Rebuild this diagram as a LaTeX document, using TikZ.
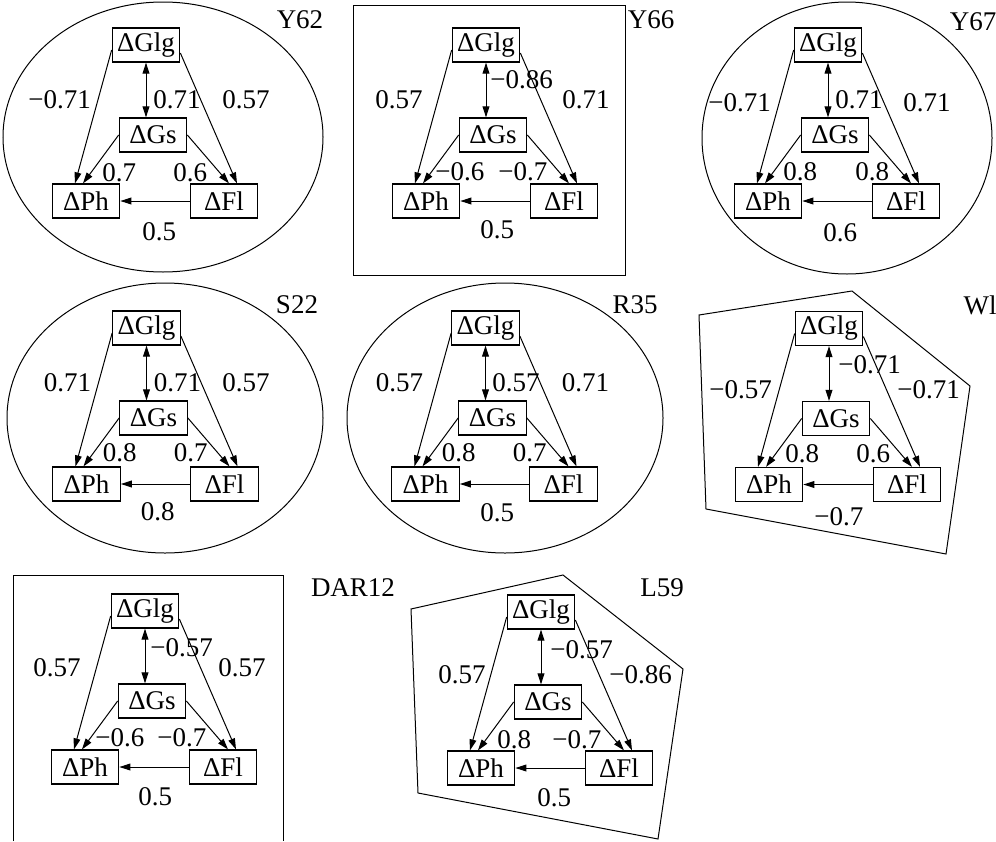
\documentclass[tikz,border=0pt]{standalone}
\usepackage{fontspec}
\setmainfont{Liberation Serif}
\usetikzlibrary{calc,arrows.meta}
\tikzset{
  bx/.style={draw,line width=0.6pt,inner sep=0pt,minimum width=33.75pt,minimum height=17pt,font=\fontsize{13.5}{16}\selectfont},
  lb/.style={inner sep=0pt,anchor=west,font=\fontsize{13.5}{16}\selectfont},
  ttl/.style={inner sep=0pt,font=\fontsize{13.5}{16}\selectfont},
  ar/.style={line width=0.5pt,-{Triangle[length=5.5pt,width=3.4pt]}},
  dar/.style={line width=0.5pt,{Triangle[length=5.5pt,width=3.4pt]}-{Triangle[length=5.5pt,width=3.4pt]}},
  frame/.style={line width=0.5pt}
}
\newcommand\panelcore[3]{%
  \node[bx] (#1g) at (#2,#3) {ΔGlg};
  \node[bx] (#1s) at ($(#1g)+(7,90)$) {ΔGs};
  \node[bx] (#1p) at ($(#1g)+(-60,156)$) {ΔPh};
  \node[bx] (#1f) at ($(#1g)+(78,156)$) {ΔFl};
  \draw[dar] (#1g.south) -- (#1g.south |- #1s.north);
  \draw[ar] ($(#1g.west)+(0,5)$) -- ($(#1p.north)+(-11,0)$);
  \draw[ar] ($(#1g.east)+(0,8)$) -- ($(#1f.north)+(13,0)$);
  \draw[ar] (#1s.west) -- ($(#1p.north)+(-3,0)$);
  \draw[ar] (#1s.east) -- ($(#1f.north)+(5,0)$);
  \draw[ar] (#1f.west) -- (#1p.east);
}
\newcommand\lab[4]{\node[lb] (#1) at #2 {#4};}
\begin{document}
\begin{tikzpicture}[x=0.5pt,y=-0.5pt]
\useasboundingbox (0,0) rectangle (996,841);
% ---------- Y62
\draw[frame] (163,137) ellipse [x radius=160, y radius=135];
\node[ttl] (t1) at (300,20) {Y62};
\panelcore{a}{146}{45}
\begin{scope}[shift={(146,45)}]
\lab{a1}{(-118,55)}{}{−0.71}
\lab{a2}{(7,55)}{}{0.71}
\lab{a3}{(76,55)}{}{0.57}
\lab{a4}{(-44,128)}{}{0.7}
\lab{a5}{(27,128)}{}{0.6}
\lab{a6}{(-4,187)}{}{0.5}
\end{scope}
% ---------- Y66
\draw[frame] (353,5) rectangle (625,275);
\node[ttl] (t2) at (651,20) {Y66};
\panelcore{b}{486}{45}
\begin{scope}[shift={(486,45)}]
\lab{b1}{(-111,55)}{}{0.57}
\lab{b2}{(4,35)}{}{−0.86}
\lab{b3}{(76,55)}{}{0.71}
\lab{b4}{(-51,127)}{}{−0.6}
\lab{b5}{(12,127)}{}{−0.7}
\lab{b6}{(-6,185)}{}{0.5}
\end{scope}
% ---------- Y67
\draw[frame] (847,138) ellipse [x radius=145, y radius=136];
\node[ttl] (t3) at (973,22) {Y67};
\panelcore{c}{828}{45}
\begin{scope}[shift={(828,45)}]
\lab{c1}{(-120,58)}{}{−0.71}
\lab{c2}{(7,55)}{}{0.71}
\lab{c3}{(75,58)}{}{0.71}
\lab{c4}{(-45,127)}{}{0.8}
\lab{c5}{(27,127)}{}{0.8}
\lab{c6}{(-5,188)}{}{0.6}
\end{scope}
% ---------- S22
\draw[frame] (165,418) ellipse [x radius=158, y radius=135];
\node[ttl] (t4) at (297,305) {S22};
\panelcore{d}{146.5}{328}
\begin{scope}[shift={(146.5,328)}]
\lab{d1}{(-103,55)}{}{0.71}
\lab{d2}{(7,55)}{}{0.71}
\lab{d3}{(75.5,55)}{}{0.57}
\lab{d4}{(-44,125)}{}{0.8}
\lab{d5}{(27,125)}{}{0.7}
\lab{d6}{(-6,184)}{}{0.8}
\end{scope}
% ---------- R35
\draw[frame] (505,418) ellipse [x radius=158, y radius=135];
\node[ttl] (t5) at (635,305) {R35};
\panelcore{e}{485.5}{328}
\begin{scope}[shift={(485.5,328)}]
\lab{e1}{(-110,55)}{}{0.57}
\lab{e2}{(6.5,55)}{}{0.57}
\lab{e3}{(76,55)}{}{0.71}
\lab{e4}{(-44,125)}{}{0.8}
\lab{e5}{(27,125)}{}{0.7}
\lab{e6}{(-5.5,185)}{}{0.5}
\end{scope}
% ---------- Wl
\draw[frame] (699,315) -- (852,291) -- (970,386) -- (946,554) -- (706,509) -- cycle;
\node[ttl] (t6) at (980,305) {Wl};
\panelcore{f}{829}{328.5}
\begin{scope}[shift={(829,328.5)}]
\lab{f1}{(-120,61)}{}{−0.57}
\lab{f2}{(9,36)}{}{−0.71}
\lab{f3}{(68,61)}{}{−0.71}
\lab{f4}{(-44,125)}{}{0.8}
\lab{f5}{(27,125)}{}{0.6}
\lab{f6}{(-15,188)}{}{−0.7}
\end{scope}
% ---------- DAR12
\draw[frame] (13,841) -- (13,575) -- (283,575) -- (283,841);
\node[ttl] (t7) at (353,588) {DAR12};
\panelcore{g}{145}{611}
\begin{scope}[shift={(145,611)}]
\lab{g1}{(-112,57)}{}{0.57}
\lab{g2}{(5,37)}{}{−0.57}
\lab{g3}{(73,57)}{}{0.57}
\lab{g4}{(-50,127)}{}{−0.6}
\lab{g5}{(12,127)}{}{−0.7}
\lab{g6}{(-7,186)}{}{0.5}
\end{scope}
% ---------- L59
\draw[frame] (411,609) -- (563,575) -- (683,669) -- (658,839) -- (418,793) -- cycle;
\node[ttl] (t8) at (662,588) {L59};
\panelcore{h}{541}{612}
\begin{scope}[shift={(541,612)}]
\lab{h1}{(-103,63)}{}{0.57}
\lab{h2}{(9,38)}{}{−0.57}
\lab{h3}{(68,63)}{}{−0.86}
\lab{h4}{(-44,128)}{}{0.8}
\lab{h5}{(11,128)}{}{−0.7}
\lab{h6}{(-4,186)}{}{0.5}
\end{scope}
\end{tikzpicture}
\end{document}
